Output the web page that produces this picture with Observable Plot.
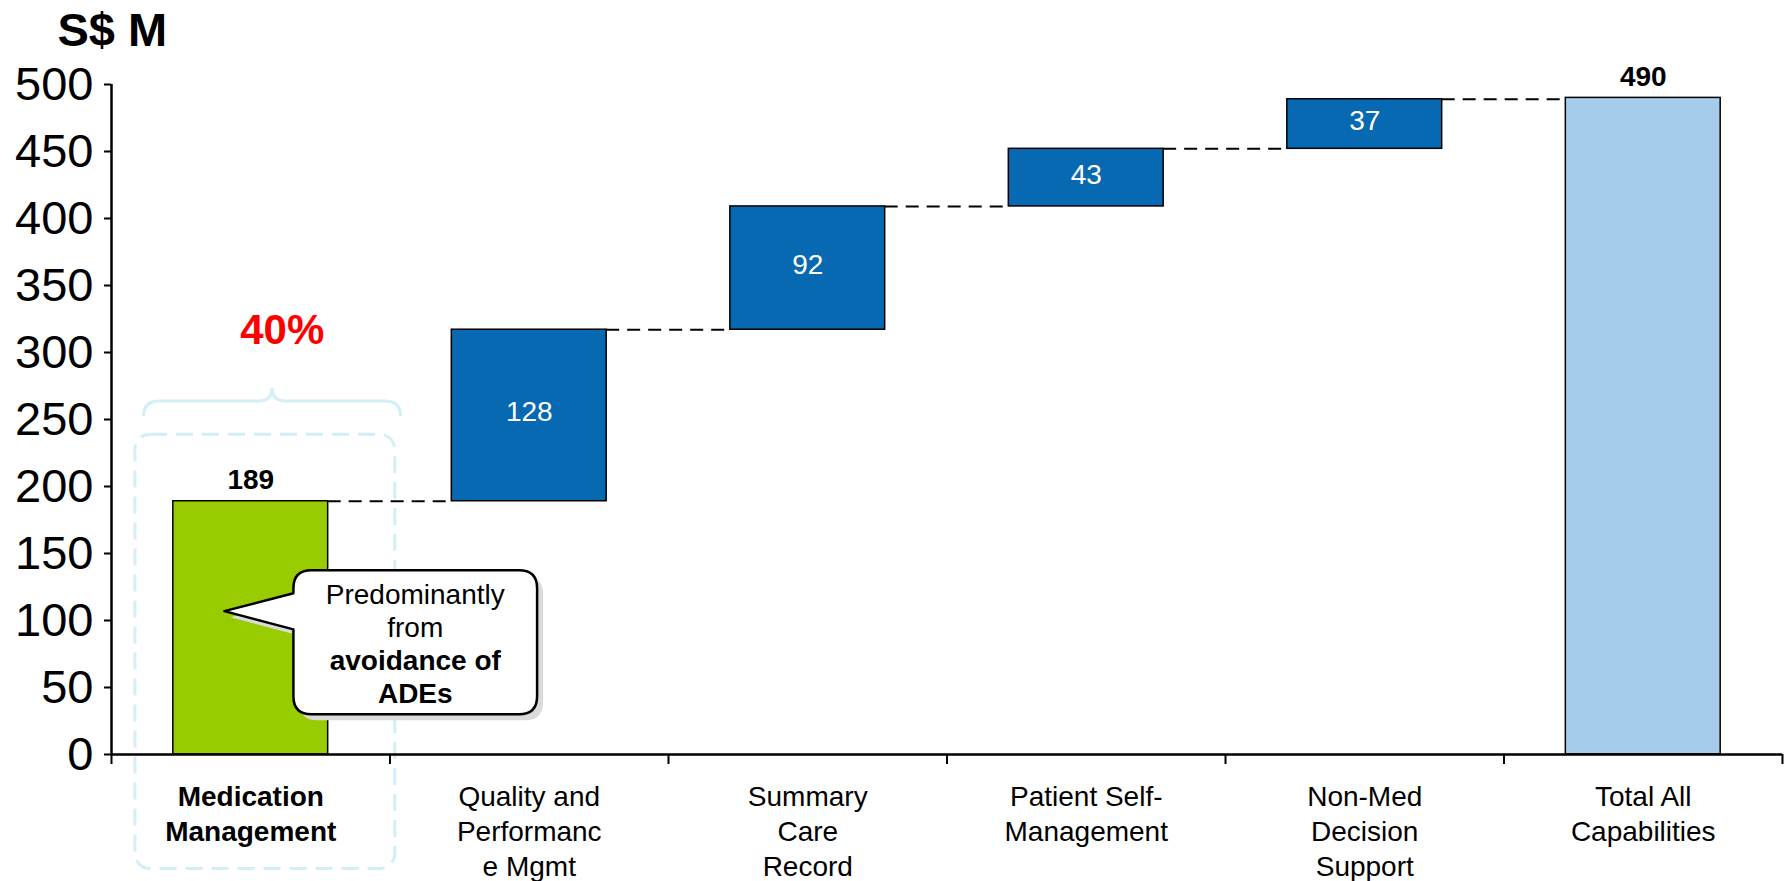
<!DOCTYPE html>
<html>
<head>
<meta charset="utf-8">
<script src="https://cdn.jsdelivr.net/npm/d3@7"></script>
<script src="https://cdn.jsdelivr.net/npm/@observablehq/plot@0.6"></script>
<style>
  html, body { margin: 0; padding: 0; background: #fff; }
  #chart svg { display: block; }
</style>
</head>
<body>
<div id="chart"></div>
<script>
// ---- data ----
const categories = [
  "Medication\nManagement",
  "Quality and\nPerformanc\ne Mgmt",
  "Summary\nCare\nRecord",
  "Patient Self-\nManagement",
  "Non-Med\nDecision\nSupport",
  "Total All\nCapabilities"
];
const values = [189, 128, 92, 43, 37, 490];
const kinds = ["start", "step", "step", "step", "step", "total"];
const yTicks = [0, 50, 100, 150, 200, 250, 300, 350, 400, 450, 500];
const unitLabel = "S$ M";
const shareLabel = "40%";
const calloutLines = ["Predominantly", "from", "avoidance of", "ADEs"];
const calloutBold = [false, false, true, true];

// ---- styling / layout ----
const FONT = "'Liberation Sans', Arial, Helvetica, sans-serif";
const colors = {start: "#99CC00", step: "#0769B1", total: "#A6CCEB"};
const pad = 0.222;          // bar inset within each category slot
const cyan = "#d3eef6";

// annotation anchors (data units: x = category slot index, y = S$ M)
const ann = {
  share: {x: 0.613, y: 306},
  brace: {x1: 0.117, x2: 1.04, y: 263.5},
  box: {x1: 0.086, x2: 1.019, y1: 238.6, y2: -85.4},
  callout: {x1: 0.655, x2: 1.53, y1: 137.2, y2: 29.7, tipX: 0.407, tipY: 106.6, baseY1: 120, baseY2: 93}
};

// ---- derived waterfall rows ----
let run = 0;
const rows = values.map((v, i) => {
  let base, top;
  if (kinds[i] === "start") { base = 0; top = v; run = v; }
  else if (kinds[i] === "step") { base = run; top = run + v; run = top; }
  else { base = 0; top = v; }
  return {i, cat: categories[i], value: v, kind: kinds[i], base, top, mid: (base + top) / 2};
});
const connectors = rows.slice(0, -1).map(d => ({i: d.i, level: d.top}));

function annotations(...args) {
  const s = args.find(a => a && typeof a.x === "function" && typeof a.y === "function");
  const x = s.x, y = s.y;
  const g = d3.create("svg:g");

  // dashed rounded highlight box
  const b = ann.box;
  g.append("rect")
    .attr("x", x(b.x1)).attr("y", y(b.y1))
    .attr("width", x(b.x2) - x(b.x1)).attr("height", y(b.y2) - y(b.y1))
    .attr("rx", 15).attr("ry", 15)
    .attr("fill", "none").attr("stroke", cyan).attr("stroke-width", 3)
    .attr("stroke-dasharray", "17,9");

  // curly brace
  const xa = x(ann.brace.x1), xb = x(ann.brace.x2), yb = y(ann.brace.y), xm = (xa + xb) / 2;
  g.append("path")
    .attr("d", `M${xa},${yb + 15} Q${xa},${yb} ${xa + 16},${yb} L${xm - 14},${yb} Q${xm},${yb} ${xm},${yb - 13} Q${xm},${yb} ${xm + 14},${yb} L${xb - 16},${yb} Q${xb},${yb} ${xb},${yb + 15}`)
    .attr("fill", "none").attr("stroke", cyan).attr("stroke-width", 3);
  return g.node();
}

function callout(...args) {
  const s = args.find(a => a && typeof a.x === "function" && typeof a.y === "function");
  const x = s.x, y = s.y;
  const c = ann.callout;
  const L = x(c.x1), R = x(c.x2), T = y(c.y1), B = y(c.y2), r = 18;
  const tx = x(c.tipX), ty = y(c.tipY), b1 = y(c.baseY1), b2 = y(c.baseY2);
  const d = `M${L + r},${T} H${R - r} Q${R},${T} ${R},${T + r} V${B - r} Q${R},${B} ${R - r},${B} H${L + r} Q${L},${B} ${L},${B - r} V${b2} L${tx},${ty} L${L},${b1} V${T + r} Q${L},${T} ${L + r},${T} Z`;
  const g = d3.create("svg:g");
  g.append("path").attr("d", d).attr("transform", "translate(6,6)").attr("fill", "#dadada");
  g.append("path").attr("d", d).attr("fill", "#fff").attr("stroke", "#000").attr("stroke-width", 2.5).attr("stroke-linejoin", "round");
  const cx = (L + R) / 2;
  const t = g.append("text").attr("text-anchor", "middle").attr("font-size", 28).attr("font-family", FONT).attr("fill", "#000");
  calloutLines.forEach((line, k) => {
    t.append("tspan").attr("x", cx).attr("y", T + 34 + k * 33)
      .attr("font-weight", calloutBold[k] ? "bold" : "normal").text(line);
  });
  return g.node();
}

const chart = Plot.plot({
  width: 1788,
  height: 881,
  marginLeft: 111,
  marginRight: 6,
  marginTop: 84,
  marginBottom: 127,
  style: {fontFamily: FONT, background: "#fff", color: "#000", overflow: "visible"},
  x: {type: "linear", domain: [0, 6]},
  y: {domain: [0, 500]},
  marks: [
    annotations,
    Plot.axisY({ticks: yTicks, tickSize: 7, tickPadding: 11, fontSize: 47, label: null, strokeWidth: 2}),
    Plot.axisX({ticks: d3.range(0, 7), tickSize: 10, tickFormat: () => "", label: null, strokeWidth: 2}),
    Plot.ruleX([0], {stroke: "#000", strokeWidth: 2.5}),
    Plot.ruleY(connectors, {y: "level", x1: d => d.i + 1 - pad, x2: d => d.i + 1 + pad, stroke: "#000", strokeWidth: 2, strokeDasharray: "13,8"}),
    Plot.rectY(rows, {
      x1: d => d.i + pad, x2: d => d.i + 1 - pad,
      y1: "base", y2: "top",
      fill: d => colors[d.kind], stroke: "#000", strokeWidth: 1.5
    }),
    Plot.ruleY([0], {stroke: "#000", strokeWidth: 2.5}),
    Plot.text(rows.filter(d => d.kind !== "step"), {
      x: d => d.i + 0.5, y: "top", text: d => String(d.value),
      lineAnchor: "bottom", dy: -12, fontSize: 28, fontWeight: "bold", fill: "#000"
    }),
    Plot.text(rows.filter(d => d.kind === "step"), {
      x: d => d.i + 0.5, y: "mid", text: d => String(d.value),
      lineAnchor: "middle", dy: -3, fontSize: 28, fill: "#fff"
    }),
    Plot.text([shareLabel], {x: ann.share.x, y: ann.share.y, text: d => d, lineAnchor: "bottom", fontSize: 42, fontWeight: "bold", fill: "#FF0000"}),
    Plot.text([unitLabel], {frameAnchor: "top-left", dx: -54, dy: -39, text: d => d, textAnchor: "start", lineAnchor: "bottom", fontSize: 47, fontWeight: "bold", fill: "#000"}),
    callout,
    Plot.text(rows.filter(d => d.i === 0), {
      x: d => d.i + 0.5, y: 0, text: "cat", lineAnchor: "top", dy: 27,
      fontSize: 28, lineHeight: 1.25, fontWeight: "bold", fill: "#000"
    }),
    Plot.text(rows.filter(d => d.i !== 0), {
      x: d => d.i + 0.5, y: 0, text: "cat", lineAnchor: "top", dy: 27,
      fontSize: 28, lineHeight: 1.25, fill: "#000"
    })
  ]
});
document.getElementById("chart").appendChild(chart);
</script>
</body>
</html>
